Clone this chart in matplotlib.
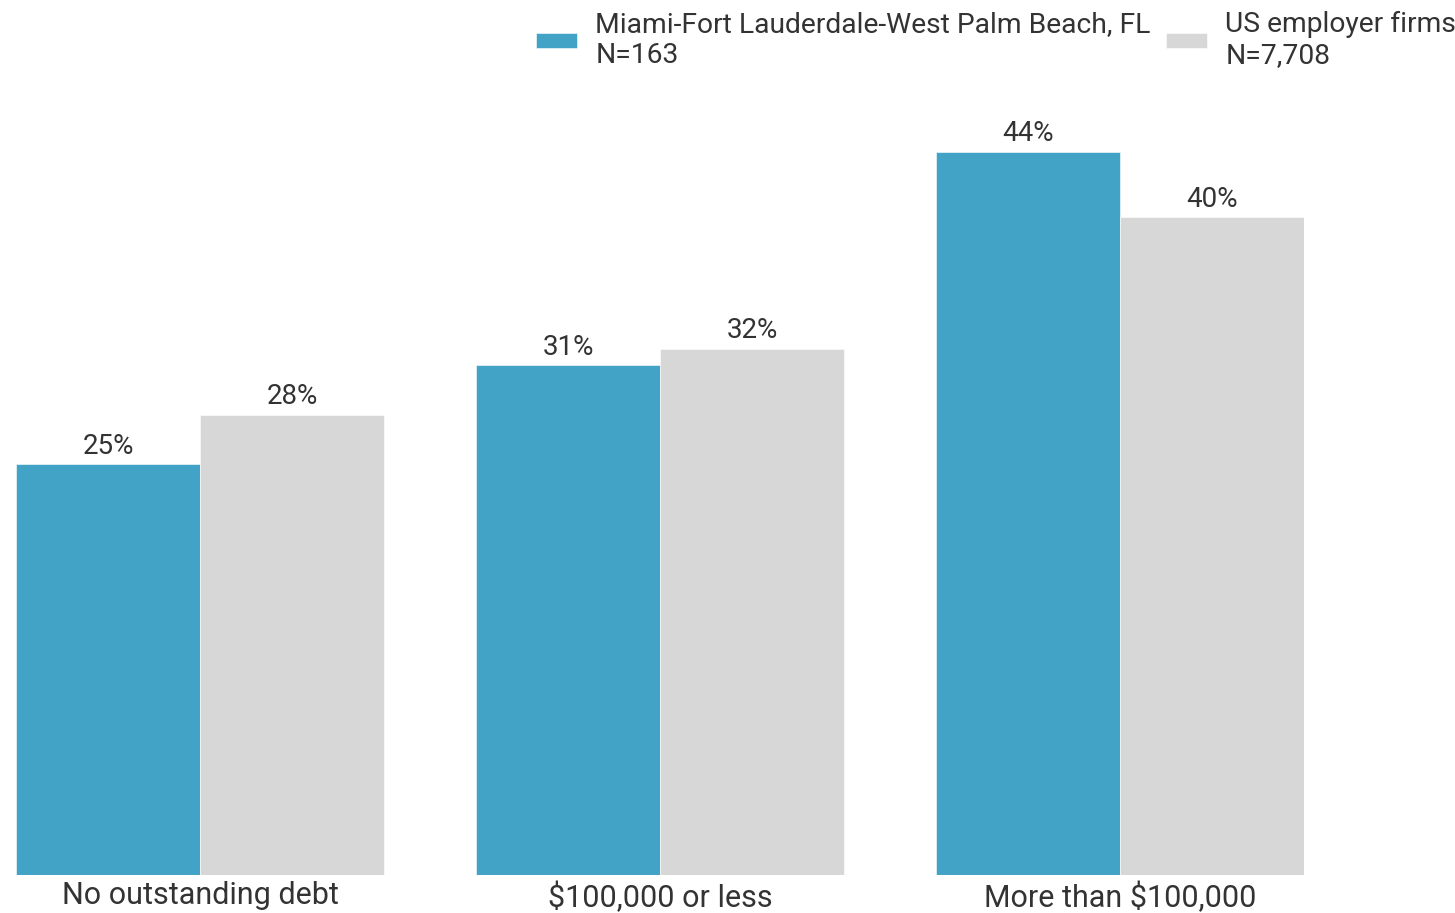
import numpy as np
import matplotlib
matplotlib.use("Agg")
import matplotlib.pyplot as plt

plt.rcParams["font.family"] = ["Roboto", "DejaVu Sans"]

# data
categories = ["No outstanding debt", "$100,000 or less", "More than $100,000"]
miami = [25, 31, 44]
us_firms = [28, 32, 40]
series_names = ["Miami-Fort Lauderdale-West Palm Beach, FL\nN=163",
                "US employer firms\nN=7,708"]

blue = "#42A3C7"
grey = "#D7D7D7"
text_col = "#333333"

W, H = 1455, 913
fig = plt.figure(figsize=(W / 100, H / 100), dpi=100)

# axes placed in pixel terms: bars from x=16 to 1304, baseline at y=875
px_per_pct = 16.44
ytop = 47
left, right, base = 16, 1304, 875
ax = fig.add_axes([left / W, (H - base) / H, (right - left) / W, ytop * px_per_pct / H])

x = np.arange(len(categories))
width = 0.4
b1 = ax.bar(x - width / 2, miami, width, color=blue, edgecolor="white", linewidth=0.4)
b2 = ax.bar(x + width / 2, us_firms, width, color=grey, edgecolor="white", linewidth=0.4)

for bars, vals in [(b1, miami), (b2, us_firms)]:
    for rect, v in zip(bars, vals):
        ax.text(rect.get_x() + rect.get_width() / 2, v + 0.27, f"{v}%",
                ha="center", va="bottom", fontsize=20, color=text_col)

ax.set_xlim(-0.4, 2.4)
ax.set_ylim(0, ytop)
ax.set_xticks(x)
ax.set_xticklabels(categories, fontsize=22, color=text_col)
ax.tick_params(axis="x", length=0, pad=4.5)
ax.set_yticks([])
for s in ax.spines.values():
    s.set_visible(False)

fig.legend([b1, b2], series_names, loc="upper left",
           bbox_to_anchor=(536 / W, 1 - 11 / H), ncol=2, frameon=False,
           fontsize=20.3, labelcolor=text_col, handlelength=1.45, handleheight=0.42,
           handletextpad=0.65, columnspacing=0.55, borderpad=0, borderaxespad=0)
for t in fig.legends[0].get_texts():
    t.set_linespacing(1.2)

fig.savefig("out.png", dpi=100)
